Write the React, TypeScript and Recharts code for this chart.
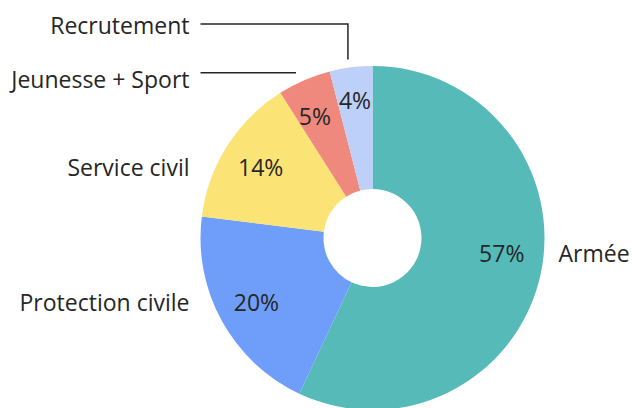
import { PieChart, Pie, Cell } from 'recharts';

const categories = ['Armée', 'Protection civile', 'Service civil', 'Jeunesse + Sport', 'Recrutement'];
const shares = [57, 20, 14, 5, 4];
const colors = ['#56BBB8', '#6E9EFA', '#FCE376', '#EF897E', '#BDD0F9'];

const data = categories.map((name, i) => ({ name, value: shares[i] }));

const RAD = Math.PI / 180;
const FONT = '"Open Sans", Lato, sans-serif';
const INK = '#262626';
const FS = 23;

const renderLabel = (props: any) => {
  const { cx, cy, midAngle, outerRadius, index, name, value } = props;
  const cos = Math.cos(-midAngle * RAD);
  const sin = Math.sin(-midAngle * RAD);
  // percent inside the ring; the thin top slices sit a bit further out
  const r = outerRadius * (index === 4 ? 0.81 : 0.77);
  let px = cx + r * cos;
  let py = cy + r * sin;
  if (index === 0) py -= 14;
  if (index === 3) px -= 5;

  // leader anchor just outside the slice
  const ex = cx + (outerRadius + 8) * cos;
  const ey = cy + (outerRadius + 8) * sin;
  const left = cx - outerRadius;

  let nameEl;
  if (index === 0) {
    nameEl = (
      <text x={cx + outerRadius + 14} y={py} dominantBaseline="central" textAnchor="start" fill={INK} fontSize={FS} fontFamily={FONT}>
        {name}
      </text>
    );
  } else if (index < 3) {
    nameEl = (
      <text x={left - 11} y={py} dominantBaseline="central" textAnchor="end" fill={INK} fontSize={FS} fontFamily={FONT}>
        {name}
      </text>
    );
  } else if (index === 3) {
    nameEl = (
      <g>
        <line x1={left} y1={ey} x2={ex - 5} y2={ey} stroke={INK} strokeWidth={1.5} />
        <text x={left - 11} y={ey + 6} dominantBaseline="central" textAnchor="end" fill={INK} fontSize={FS} fontFamily={FONT}>
          {name}
        </text>
      </g>
    );
  } else {
    const ly = cy - outerRadius - 42;
    nameEl = (
      <g>
        <polyline points={`${left},${ly} ${ex - 2},${ly} ${ex - 2},${ey}`} fill="none" stroke={INK} strokeWidth={1.5} />
        <text x={left - 11} y={ly + 1} dominantBaseline="central" textAnchor="end" fill={INK} fontSize={FS} fontFamily={FONT}>
          {name}
        </text>
      </g>
    );
  }

  return (
    <g key={`lbl-${index}`}>
      <text x={px} y={py} dominantBaseline="central" textAnchor="middle" fill={INK} fontSize={FS} fontFamily={FONT}>
        {`${value}%`}
      </text>
      {nameEl}
    </g>
  );
};

export default function App() {
  return (
    <div style={{ position: 'absolute', left: 0, top: 0, width: 632, height: 408, background: '#fff' }}>
      <PieChart width={632} height={408} margin={{ top: 0, right: 0, bottom: 0, left: 0 }}>
        <Pie
          data={data}
          dataKey="value"
          nameKey="name"
          cx={372.5}
          cy={238}
          outerRadius={172}
          innerRadius={49}
          startAngle={90}
          endAngle={-270}
          stroke="none"
          label={renderLabel}
          labelLine={false}
          isAnimationActive={false}
        >
          {data.map((_, i) => (
            <Cell key={i} fill={colors[i]} />
          ))}
        </Pie>
      </PieChart>
    </div>
  );
}
